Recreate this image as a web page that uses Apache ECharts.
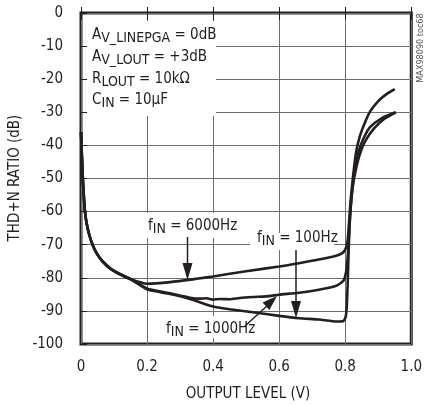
<!DOCTYPE html>
<html><head><meta charset="utf-8">
<script src="https://cdn.jsdelivr.net/npm/echarts@6/dist/echarts.min.js"></script>
<style>html,body{margin:0;padding:0;background:#fff}#c{width:425px;height:406px}</style>
</head><body><div id="c"></div>
<script>
const FONT = "'Liberation Sans Narrow','DejaVu Sans Condensed','Liberation Sans',sans-serif";
const xTicks = [0, 0.2, 0.4, 0.6, 0.8, 1.0];
const yTicks = [0, -10, -20, -30, -40, -50, -60, -70, -80, -90, -100];
const xTitle = 'OUTPUT LEVEL (V)';
const yTitle = 'THD+N RATIO (dB)';
// shared low-level start of all curves
const startPart = [[0,-36],[0.003,-44],[0.006,-51],[0.009,-56],[0.012,-60],[0.017,-63.5],[0.025,-67],[0.035,-70],[0.048,-72.7],[0.065,-75],[0.09,-77.3],[0.12,-79],[0.15,-80.4]];
const f6000 = [[0.2,-81.8],[0.27,-81.3],[0.35,-80.3],[0.4,-79.6],[0.5,-78],[0.6,-76.6],[0.66,-75.6],[0.72,-74.5],[0.77,-73.4],[0.79,-72.6],[0.8,-71.5],[0.807,-69],[0.811,-64],[0.816,-57],[0.823,-50],[0.833,-42],[0.845,-37],[0.858,-33.5],[0.875,-29.8],[0.9,-26.6],[0.925,-24.5],[0.95,-23]];
const f100 = [[0.2,-83.2],[0.27,-84.7],[0.33,-86],[0.36,-86.3],[0.38,-86.2],[0.4,-86.6],[0.42,-86.4],[0.45,-86.5],[0.48,-86.1],[0.52,-85.8],[0.56,-85.6],[0.6,-85.1],[0.66,-84.5],[0.72,-83.6],[0.775,-82.3],[0.795,-80.8],[0.803,-78],[0.808,-73],[0.813,-64],[0.819,-56],[0.828,-48],[0.84,-42],[0.855,-38],[0.875,-34.5],[0.91,-31.8],[0.953,-30]];
const f1000 = [[0.2,-83.5],[0.27,-84.9],[0.33,-86.4],[0.4,-88.7],[0.45,-89.5],[0.52,-90.4],[0.6,-91.5],[0.66,-92.2],[0.72,-92.6],[0.775,-93.2],[0.795,-93],[0.802,-91.5],[0.805,-88],[0.808,-80],[0.811,-70],[0.815,-61],[0.822,-53],[0.835,-46],[0.85,-41],[0.866,-37.8],[0.888,-34.8],[0.918,-32],[0.953,-30]];
const seriesNames = ['6000Hz','100Hz','1000Hz'];

const chart = echarts.init(document.getElementById('c'));
const ink = '#231f20', grid = '#6d6e71';
const richT = {
  m:{fontSize:15,lineHeight:20,fontFamily:FONT,fill:ink,color:ink},
  s:{fontSize:14,lineHeight:12,verticalAlign:'bottom',fontFamily:FONT,fill:ink,color:ink}
};
function txt(x,y,text,extra){
  return Object.assign({type:'text',x:x,y:y,z:5,style:{text:text,rich:richT,font:'15px '+FONT,fill:ink,textVerticalAlign:'middle',textAlign:'left'}},extra||{});
}
function rect(x,y,w,h){return {type:'rect',shape:{x:x,y:y,width:w,height:h},style:{fill:'#fff'},z:1};}
const mkSeries = (name,pts)=>({name:name,type:'line',data:startPart.concat(pts),showSymbol:false,symbol:'none',smooth:0.2,
  lineStyle:{color:ink,width:2.6},z:3});
chart.setOption({
  animation:false,
  grid:{left:81,right:10,top:13,bottom:62,show:true,borderColor:ink,borderWidth:3,backgroundColor:'transparent'},
  xAxis:[{type:'value',min:0,max:1,interval:0.2,
    axisLine:{show:false},axisTick:{show:true,inside:true,length:6,lineStyle:{color:ink,width:1}},
    splitLine:{show:true,lineStyle:{color:grid,width:1}},
    axisLabel:{margin:16,fontSize:15,fontFamily:FONT,color:ink,formatter:v=>v===0?'0':v.toFixed(1)}},
    {type:'value',position:'top',min:0,max:1,interval:0.2,axisLine:{show:false},
    axisTick:{show:true,inside:true,length:7,lineStyle:{color:ink,width:1}},axisLabel:{show:false},splitLine:{show:false}}],
  yAxis:{type:'value',min:-100,max:0,interval:10,
    axisLine:{show:false},axisTick:{show:true,inside:true,length:6,lineStyle:{color:ink,width:1}},
    splitLine:{show:true,lineStyle:{color:grid,width:1}},
    axisLabel:{margin:18,fontSize:15,fontFamily:FONT,color:ink,formatter:v=>String(v)}},
  series:[mkSeries(seriesNames[0],f6000),mkSeries(seriesNames[1],f100),mkSeries(seriesNames[2],f1000)],
  graphic:[
    rect(87,21,129,95),
    rect(145,213,88,25),
    rect(250,233,84,17),
    rect(162,316,88,22),
    txt(92,35,'{m|A}{s|V_LINEPGA}{m| = 0dB}'),
    txt(92,57.5,'{m|A}{s|V_LOUT}{m| = +3dB}'),
    txt(92,79.5,'{m|R}{s|LOUT}{m| = 10kΩ}'),
    txt(92,100,'{m|C}{s|IN}{m| = 10µF}'),
    txt(148,226.5,'{m|f}{s|IN}{m| = 6000Hz}'),
    txt(257,238.5,'{m|f}{s|IN}{m| = 100Hz}'),
    txt(166,329,'{m|f}{s|IN}{m| = 1000Hz}'),
    {type:'line',z:5,shape:{x1:187.5,y1:237,x2:187.5,y2:266},style:{stroke:ink,lineWidth:1.5}},
    {type:'polygon',z:5,shape:{points:[[187.5,280],[182.5,263],[192.5,263]]},style:{fill:ink}},
    {type:'line',z:5,shape:{x1:296,y1:250,x2:296,y2:304},style:{stroke:ink,lineWidth:1.5}},
    {type:'polygon',z:5,shape:{points:[[296,318],[291,301],[301,301]]},style:{fill:ink}},
    {type:'line',z:5,shape:{x1:245,y1:326,x2:268,y2:305},style:{stroke:ink,lineWidth:1.5}},
    {type:'polygon',z:5,shape:{points:[[277,296],[269.4,310],[262.6,302.6]]},style:{fill:ink}},
    {type:'text',z:5,x:248,y:394,style:{text:xTitle,font:'15px '+FONT,fill:ink,textAlign:'center',textVerticalAlign:'middle'}},
    {type:'text',z:5,x:15,y:178,rotation:Math.PI/2,style:{text:yTitle,font:'15px '+FONT,fill:ink,textAlign:'center',textVerticalAlign:'middle'}},
    {type:'text',z:5,x:421,y:48,rotation:Math.PI/2,style:{text:'MAX98090 toc68',font:'9px '+FONT,fill:'#555',textAlign:'center',textVerticalAlign:'middle'}}
  ]
});
</script></body></html>
